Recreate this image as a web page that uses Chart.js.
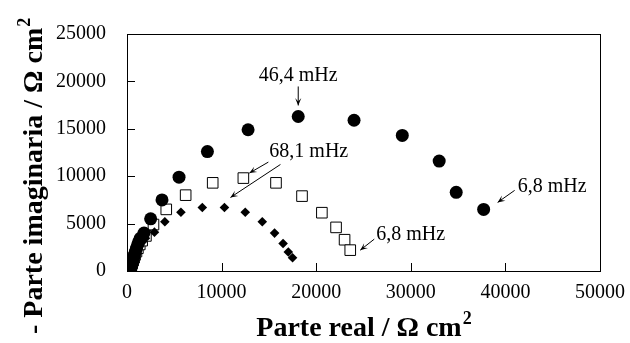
<!DOCTYPE html>
<html>
<head>
<meta charset="utf-8">
<script src="https://cdn.jsdelivr.net/npm/chart.js@4.4.1/dist/chart.umd.min.js"></script>
<style>
  html, body { margin: 0; padding: 0; background: #fff; }
  #wrap { width: 630px; height: 343px; }
</style>
</head>
<body>
<div id="wrap"><canvas id="nyquist"></canvas></div>
<script>
// Nyquist data, Z' and -Z'' in ohm cm2
const circleRe = [400, 480, 560, 640, 720, 800, 900, 1000, 1120, 1250, 1400, 1800, 2500, 3700, 5500, 8500, 12800, 18100, 24000, 29100, 33000, 34800, 37700];
const circleIm = [250, 550, 850, 1150, 1450, 1750, 2050, 2400, 2750, 3100, 3450, 4000, 5500, 7500, 9900, 12600, 14900, 16300, 15900, 14300, 11600, 8300, 6500];

const squareRe = [350, 450, 550, 650, 750, 850, 1000, 1150, 1350, 1600, 2000, 2800, 4150, 6200, 9060, 12300, 15750, 18500, 20600, 22100, 23000, 23600];
const squareIm = [200, 500, 800, 1100, 1400, 1700, 2050, 2400, 2800, 3200, 3700, 4900, 6500, 8000, 9300, 9800, 9300, 7900, 6150, 4600, 3300, 2200];

const diamondRe = [350, 450, 550, 650, 750, 850, 1000, 1150, 1350, 1600, 1950, 2900, 4000, 5700, 7960, 10300, 12500, 14300, 15600, 16500, 17050, 17500];
const diamondIm = [200, 500, 800, 1100, 1400, 1700, 2000, 2350, 2700, 3050, 3450, 4100, 5200, 6200, 6700, 6700, 6200, 5200, 4000, 2900, 2000, 1400];

const xTicks = [0, 10000, 20000, 30000, 40000, 50000];
const yTicks = [0, 5000, 10000, 15000, 20000, 25000];

// frequency labels: text, target point (data units), text offset, arrows (offsets from targets)
const notes = [
  { text: '46,4 mHz', at: [18100, 16300], dx: 0, dy: -35, align: 'center',
    arrows: [{ at: [18100, 16300], from: [0, -30], to: [0, -11] }] },
  { text: '68,1 mHz', at: [12300, 9800], dx: 26, dy: -21, align: 'left',
    arrows: [{ at: [12300, 9800], from: [25, -16], to: [6, -5] },
             { at: [10300, 6700], from: [56, -43], to: [6, -10] }] },
  { text: '6,8 mHz', at: [37700, 6500], dx: 34, dy: -17, align: 'left',
    arrows: [{ at: [37700, 6500], from: [31, -19], to: [14, -7] }] },
  { text: '6,8 mHz', at: [23600, 2200], dx: 26, dy: -10, align: 'left',
    arrows: [{ at: [23600, 2200], from: [24, -11], to: [10, 0] }] }
];

const serif = '"Liberation Serif", "Times New Roman", serif';

function pts(xs, ys) {
  return xs.map((x, i) => ({ x: x, y: ys[i] }));
}

// bold title with a raised "2"
function unitTitle(ctx, main, x, y, center) {
  ctx.font = 'bold 28px ' + serif;
  const w1 = ctx.measureText(main).width;
  ctx.font = 'bold 18px ' + serif;
  const w2 = ctx.measureText('2').width;
  let start = center ? x - (w1 + w2) / 2 : x;
  ctx.textAlign = 'left';
  ctx.font = 'bold 28px ' + serif;
  ctx.fillText(main, start, y);
  ctx.font = 'bold 18px ' + serif;
  ctx.fillText('2', start + w1 + 1, y - 12);
}

const frame = {
  id: 'frame',
  afterDraw(chart) {
    const ctx = chart.ctx;
    const a = chart.chartArea;
    const sx = chart.scales.x, sy = chart.scales.y;
    ctx.save();
    ctx.strokeStyle = '#000';
    ctx.fillStyle = '#000';
    ctx.lineWidth = 1;
    ctx.strokeRect(a.left + 0.5, a.top + 0.5, a.right - a.left, a.bottom - a.top);
    // inward ticks
    ctx.beginPath();
    xTicks.forEach(v => {
      const px = Math.round(sx.getPixelForValue(v)) + 0.5;
      ctx.moveTo(px, a.bottom);
      ctx.lineTo(px, a.bottom - 8);
    });
    yTicks.forEach(v => {
      const py = Math.round(sy.getPixelForValue(v)) + 0.5;
      ctx.moveTo(a.left, py);
      ctx.lineTo(a.left + 8, py);
    });
    ctx.stroke();

    // axis titles
    ctx.textBaseline = 'alphabetic';
    unitTitle(ctx, 'Parte real / Ω cm', (a.left + a.right) / 2, 336, true);
    ctx.save();
    ctx.translate(42, 334);
    ctx.rotate(-Math.PI / 2);
    unitTitle(ctx, '- Parte imaginaria / Ω cm', 0, 0, false);
    ctx.restore();

    // annotations
    ctx.font = '20px ' + serif;
    notes.forEach(n => {
      const px = sx.getPixelForValue(n.at[0]);
      const py = sy.getPixelForValue(n.at[1]);
      ctx.textAlign = n.align;
      ctx.fillText(n.text, px + n.dx, py + n.dy);
      n.arrows.forEach(ar => {
        const bx = sx.getPixelForValue(ar.at[0]);
        const by = sy.getPixelForValue(ar.at[1]);
        const x1 = bx + ar.from[0], y1 = by + ar.from[1];
        const x2 = bx + ar.to[0], y2 = by + ar.to[1];
        const ang = Math.atan2(y2 - y1, x2 - x1);
        ctx.beginPath();
        ctx.moveTo(x1, y1);
        ctx.lineTo(x2, y2);
        ctx.stroke();
        ctx.beginPath();
        ctx.moveTo(x2, y2);
        ctx.lineTo(x2 - 8 * Math.cos(ang - 0.4), y2 - 8 * Math.sin(ang - 0.4));
        ctx.lineTo(x2 - 4 * Math.cos(ang), y2 - 4 * Math.sin(ang));
        ctx.lineTo(x2 - 8 * Math.cos(ang + 0.4), y2 - 8 * Math.sin(ang + 0.4));
        ctx.closePath();
        ctx.fill();
      });
    });
    ctx.restore();
  }
};

new Chart(document.getElementById('nyquist'), {
  type: 'scatter',
  data: {
    datasets: [
      {
        label: 'circulos',
        data: pts(circleRe, circleIm),
        pointStyle: 'circle',
        pointRadius: 6.5,
        backgroundColor: '#000',
        borderColor: '#000',
        borderWidth: 0
      },
      {
        label: 'diamantes',
        data: pts(diamondRe, diamondIm),
        pointStyle: 'rectRot',
        pointRadius: 4.8,
        backgroundColor: '#000',
        borderColor: '#000',
        borderWidth: 0
      },
      {
        label: 'cuadrados',
        data: pts(squareRe, squareIm),
        pointStyle: 'rect',
        pointRadius: 7.5,
        backgroundColor: '#fff',
        borderColor: '#000',
        borderWidth: 1
      }
    ]
  },
  options: {
    responsive: true,
    maintainAspectRatio: false,
    animation: false,
    events: [],
    layout: { padding: { top: 34, right: 30, left: 0, bottom: 0 } },
    plugins: {
      legend: { display: false },
      tooltip: { enabled: false }
    },
    scales: {
      x: {
        type: 'linear',
        min: 0,
        max: 50000,
        afterFit: s => { s.height = 72; },
        afterBuildTicks: s => { s.ticks = xTicks.map(v => ({ value: v })); },
        grid: { display: false },
        border: { display: false },
        ticks: {
          color: '#000',
          font: { family: serif, size: 20 },
          padding: 2,
          maxRotation: 0,
          callback: v => String(v)
        }
      },
      y: {
        type: 'linear',
        min: 0,
        max: 25000,
        afterFit: s => { s.width = 127; },
        afterBuildTicks: s => { s.ticks = yTicks.map(v => ({ value: v })); },
        grid: { display: false },
        border: { display: false },
        ticks: {
          color: '#000',
          font: { family: serif, size: 20 },
          padding: 13,
          callback: v => String(v)
        }
      }
    }
  },
  plugins: [frame]
});
</script>
</body>
</html>
